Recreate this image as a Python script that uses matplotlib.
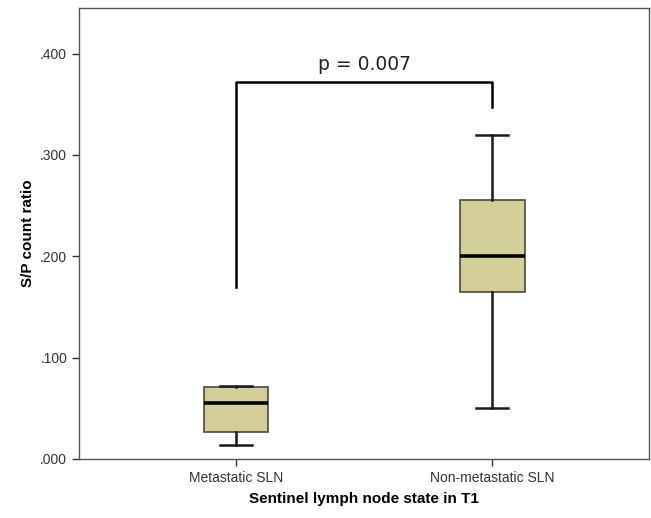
import matplotlib
matplotlib.use("Agg")
import matplotlib.pyplot as plt

plt.rcParams['font.family'] = ['Liberation Sans', 'DejaVu Sans']

groups = ["Metastatic SLN", "Non-metastatic SLN"]
whislo = [0.014, 0.050]
q1 = [0.027, 0.165]
med = [0.055, 0.200]
q3 = [0.071, 0.256]
whishi = [0.072, 0.320]

p_text = "p = 0.007"
bracket_top = 0.372
bracket_left_end = 0.170
bracket_right_end = 0.347

yticks = [0.0, 0.1, 0.2, 0.3, 0.4]
ytick_labels = [".000", ".100", ".200", ".300", ".400"]

stats = []
for i in range(len(groups)):
    stats.append(dict(label=groups[i], whislo=whislo[i], q1=q1[i], med=med[i],
                      q3=q3[i], whishi=whishi[i], fliers=[]))

fig = plt.figure(figsize=(6.51, 5.18), dpi=100)
ax = fig.add_axes([0.1214, 0.1139, 0.8756, 0.8707])

pos = [1, 2]
ax.bxp(stats, positions=pos, widths=0.25, patch_artist=True, showfliers=False,
       boxprops=dict(facecolor="#d3ce98", edgecolor="#4a4a40", linewidth=1.2),
       medianprops=dict(color="black", linewidth=2.6),
       whiskerprops=dict(color="#1a1a1a", linewidth=1.8),
       capprops=dict(color="#1a1a1a", linewidth=1.8),
       capwidths=0.125)

# significance bracket
ax.plot([pos[0], pos[0], pos[1], pos[1]],
        [bracket_left_end, bracket_top, bracket_top, bracket_right_end],
        color="black", linewidth=1.8)
ax.text((pos[0] + pos[1]) / 2, bracket_top + 0.008, p_text, ha="center", va="bottom",
        fontsize=13.5, color="#222222", family=["DejaVu Sans"])

ax.set_xlim(0.39, 2.61)
ax.set_ylim(0, 0.445)
ax.set_yticks(yticks)
ax.set_yticklabels(ytick_labels)
ax.set_xticks(pos)
ax.set_xticklabels(groups)
ax.tick_params(axis="both", direction="out", length=5, width=1, colors="#333333",
               labelsize=10, labelcolor="#333333")
for s in ax.spines.values():
    s.set_color("#555555")
    s.set_linewidth(1.0)

ax.set_ylabel("S/P count ratio", fontsize=11, fontweight="bold", labelpad=4)
ax.set_xlabel("Sentinel lymph node state in T1", fontsize=11, fontweight="bold", labelpad=5)

fig.savefig("out.png", dpi=100)
